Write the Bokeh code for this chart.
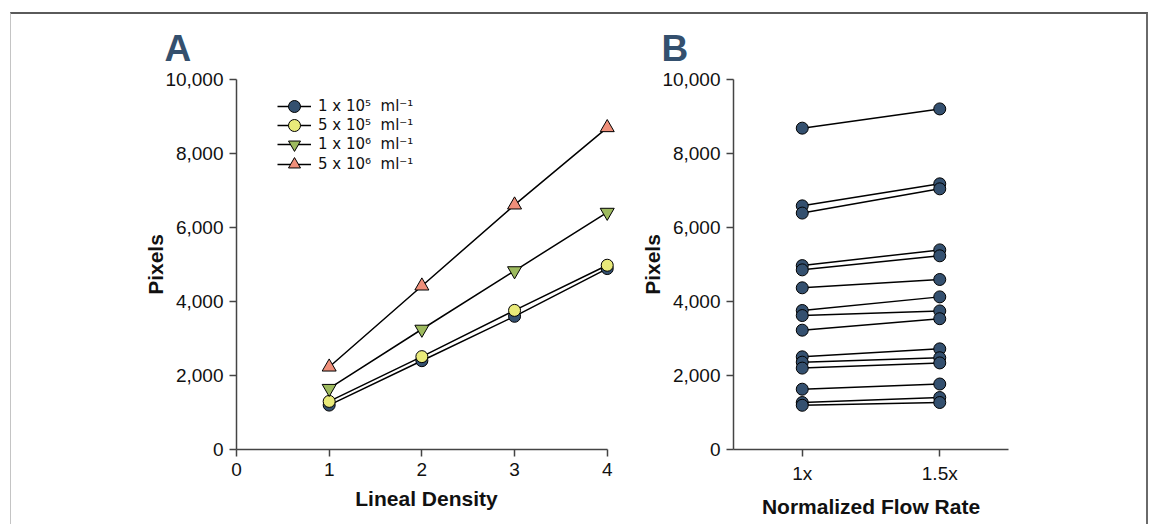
from bokeh.plotting import figure
from bokeh.layouts import row
from bokeh.models import (Range1d, FactorRange, NumeralTickFormatter, FixedTicker,
                          Legend, LegendItem, Title)
from bokeh.embed import file_html
from bokeh.resources import INLINE

# ---------------- data ----------------
lineal_density = [1, 2, 3, 4]
conc_labels = ["1 x 10\u2075  ml\u207b\u00b9", "5 x 10\u2075  ml\u207b\u00b9",
               "1 x 10\u2076  ml\u207b\u00b9", "5 x 10\u2076  ml\u207b\u00b9"]
pixels_1e5 = [1200, 2400, 3600, 4890]
pixels_5e5 = [1300, 2510, 3760, 4980]
pixels_1e6 = [1650, 3250, 4830, 6410]
pixels_5e6 = [2230, 4420, 6610, 8700]

flow_categories = ["1x", "1.5x"]
pixels_flow_1x = [8685, 6585, 6390, 4970, 4855, 4370, 3757, 3620, 3225,
                  2505, 2360, 2200, 1630, 1270, 1195]
pixels_flow_15x = [9205, 7180, 7045, 5395, 5235, 4595, 4125, 3745, 3535,
                   2720, 2480, 2340, 1770, 1405, 1270]

y_ticks = [0, 2000, 4000, 6000, 8000, 10000]
x_ticks_a = [0, 1, 2, 3, 4]

# ---------------- style ----------------
FONT = "Liberation Sans"
AXIS_COL = "#444444"
TXT_COL = "#111111"
C_DARK = "#34506f"
C_YEL = "#e9ea7a"
C_GRN = "#9dba5e"
C_SAL = "#ef8f7a"


def style(p):
    p.outline_line_color = None
    p.grid.visible = False
    p.background_fill_color = "white"
    for ax in p.axis:
        ax.axis_line_color = AXIS_COL
        ax.axis_line_width = 1.5
        ax.major_tick_line_color = AXIS_COL
        ax.major_tick_line_width = 1.5
        ax.major_tick_out = 7
        ax.major_tick_in = 0
        ax.minor_tick_line_color = None
        ax.major_label_text_font = FONT
        ax.major_label_text_font_size = "19px"
        ax.major_label_text_color = TXT_COL
        ax.major_label_standoff = 6
        ax.axis_label_text_font = FONT
        ax.axis_label_text_font_size = "21px"
        ax.axis_label_text_font_style = "bold"
        ax.axis_label_text_color = TXT_COL
    p.yaxis.axis_label_standoff = -5
    p.xaxis.axis_label_standoff = 8


def panel_title(p, txt):
    p.add_layout(Title(text=txt, text_font=FONT, text_font_size="37px",
                       text_font_style="bold", text_color="#34506e",
                       align="left", offset=-72, standoff=22), "above")


# ---------------- panel A ----------------
pa = figure(width=609, height=510, x_range=Range1d(0, 4.1), y_range=Range1d(0, 10000),
            output_backend="svg", toolbar_location=None,
            min_border_left=225, min_border_right=4, min_border_top=65,
            min_border_bottom=75)
style(pa)
panel_title(pa, "A")
pa.xaxis.ticker = FixedTicker(ticks=x_ticks_a)
pa.xaxis.bounds = (0, 4)
pa.yaxis.ticker = FixedTicker(ticks=y_ticks)
pa.yaxis.formatter = NumeralTickFormatter(format="0,0")
pa.xaxis.axis_label = "Lineal Density"
pa.yaxis.axis_label = "Pixels"

series = [
    (pixels_1e5, "circle", C_DARK, 12),
    (pixels_5e5, "circle", C_YEL, 12),
    (pixels_1e6, "inverted_triangle", C_GRN, 14),
    (pixels_5e6, "triangle", C_SAL, 14),
]
# one single-item legend per series (lets the legend markers be full size
# while keeping the rows tightly spaced)
legend_offsets_from_bottom = [328, 309, 290, 270]
for (vals, mk, col, sz), lab, off in zip(series, conc_labels, legend_offsets_from_bottom):
    lr = pa.line(lineal_density, vals, line_color="black", line_width=1.5)
    sr = pa.scatter(lineal_density, vals, marker=mk, size=sz, fill_color=col,
                    line_color="black", line_width=1)
    leg = Legend(items=[LegendItem(label=lab, renderers=[lr, sr])],
                 location=(41, off), padding=0, margin=0, spacing=0,
                 glyph_width=34, glyph_height=30, label_height=30, label_standoff=7,
                 border_line_color=None, background_fill_alpha=0,
                 label_text_font="DejaVu Sans", label_text_font_size="15px",
                 label_text_color=TXT_COL)
    pa.add_layout(leg)

# ---------------- panel B ----------------
pb = figure(width=526, height=510, x_range=FactorRange(factors=flow_categories),
            y_range=Range1d(0, 10000),
            output_backend="svg", toolbar_location=None,
            min_border_left=113, min_border_right=138, min_border_top=65,
            min_border_bottom=75)
pb.x_range.range_padding = 0
style(pb)
panel_title(pb, "B")
pb.yaxis.ticker = FixedTicker(ticks=y_ticks)
pb.yaxis.formatter = NumeralTickFormatter(format="0,0")
pb.xaxis.axis_label = "Normalized Flow Rate"
pb.yaxis.axis_label = "Pixels"

xs = [list(flow_categories) for _ in pixels_flow_1x]
ys = [[a, b] for a, b in zip(pixels_flow_1x, pixels_flow_15x)]
pb.multi_line(xs, ys, line_color="black", line_width=1.5)
pb.scatter([flow_categories[0]] * len(pixels_flow_1x) + [flow_categories[1]] * len(pixels_flow_15x),
           pixels_flow_1x + pixels_flow_15x, marker="circle", size=12,
           fill_color=C_DARK, line_color="black", line_width=1)

layout = row(pa, pb, styles={"border-top": "2px solid #5a5a5a",
                             "border-left": "1px solid #c4c4c4",
                             "border-right": "2px solid #6a6a6a",
                             "margin-left": "10px", "margin-top": "12px"})

open("out.html", "w").write(file_html(layout, INLINE))
